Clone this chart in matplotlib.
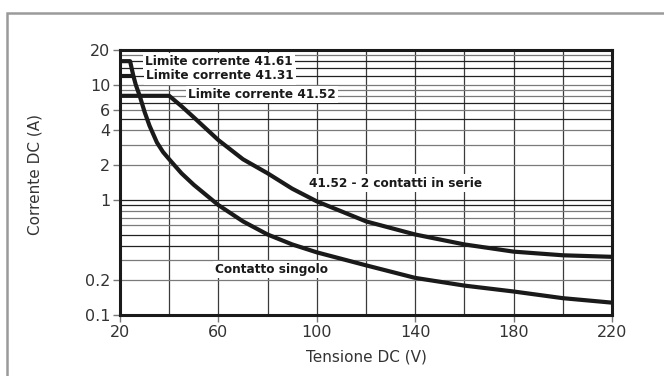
import matplotlib

matplotlib.use("Agg")
import matplotlib.pyplot as plt
from matplotlib.patches import Rectangle

# single contact curve (41.61 limit 16 A at the start)
single_v = [20, 24.1, 25.4, 26.4, 28, 30, 32, 35, 37.5, 40, 45, 50, 60, 70, 80, 90, 100, 120, 140, 160, 180, 200, 220]
single_i = [16, 16, 12, 10, 8, 5.8, 4.4, 3.15, 2.6, 2.25, 1.7, 1.35, 0.9, 0.65, 0.5, 0.41, 0.35, 0.27, 0.21, 0.18, 0.16, 0.14, 0.128]

# 41.31 current limit
limit31_v = [20, 25.4]
limit31_i = [12, 12]

# 41.52 - 2 contacts in series (limit 8 A)
series_v = [20, 40, 45, 50, 60, 70, 80, 90, 100, 120, 140, 160, 180, 200, 220]
series_i = [8, 8, 6.5, 5.2, 3.3, 2.25, 1.7, 1.25, 0.97, 0.65, 0.5, 0.41, 0.355, 0.33, 0.32]

x_ticks = [20, 60, 100, 140, 180, 220]
x_grid = [40, 60, 80, 100, 120, 140, 160, 180, 200]
y_ticks = [0.1, 0.2, 1, 2, 4, 6, 10, 20]
y_ticks_lbl = ["0.1", "0.2", "1", "2", "4", "6", "10", "20"]
y_grid_dark = [0.4, 0.5, 0.9, 1, 5, 7, 12, 14, 16]
y_grid_light = [0.2, 0.3, 0.6, 0.7, 0.8, 2, 3, 4, 6, 8, 9, 10, 18]

plt.rcParams["font.family"] = ["DejaVu Sans"]

fig = plt.figure(figsize=(6.64, 3.76), dpi=100)
fig.patches.append(Rectangle((7 / 664, -0.1), 1.2, 1 - 13 / 376 + 0.1, transform=fig.transFigure,
                             fill=False, edgecolor="#9a9a9a", linewidth=1.8))
ax = fig.add_axes([120 / 664, 1 - 315 / 376, 492 / 664, 265 / 376])
ax.set_yscale("log")
ax.set_xlim(20, 220)
ax.set_ylim(0.1, 20)

for v in x_grid:
    ax.axvline(v, color="#3a3a3a", linewidth=0.9, zorder=1)
for y in y_grid_dark:
    ax.axhline(y, color="#222222", linewidth=0.9, zorder=1)
for y in y_grid_light:
    ax.axhline(y, color="#7a7a7a", linewidth=0.9, zorder=1)

kw = dict(color="#1a1a1a", linewidth=3, solid_capstyle="butt", solid_joinstyle="round", zorder=4)
ax.plot(single_v, single_i, **kw)
ax.plot(limit31_v, limit31_i, **kw)
ax.plot(series_v, series_i, **kw)

box = dict(facecolor="white", edgecolor="none", pad=1.5)
tkw = dict(fontsize=8.7, fontweight="bold", color="#1a1a1a", va="center", ha="left", bbox=box, zorder=3)
ax.text(30.1, 16, "Limite corrente 41.61", **tkw)
ax.text(30.7, 11.9, "Limite corrente 41.31", **tkw)
ax.text(47.6, 8.2, "Limite corrente 41.52", **tkw)
ax.text(97.0, 1.4, "41.52 - 2 contatti in serie", **tkw)
ax.text(58.6, 0.25, "Contatto singolo", **tkw)

ax.set_xticks(x_ticks)
ax.set_yticks(y_ticks)
ax.set_yticklabels(y_ticks_lbl)
ax.minorticks_off()
ax.tick_params(axis="both", direction="out", length=5, width=1, color="#777777",
               labelsize=11.5, labelcolor="#333333", pad=2)
for s in ax.spines.values():
    s.set_linewidth(2.2)
    s.set_color("#1a1a1a")

ax.set_xlabel("Tensione DC (V)", fontsize=11, color="#333333")
ax.set_ylabel("Corrente DC (A)", fontsize=11, color="#333333")
ax.xaxis.set_label_coords(0.5, -0.13)
ax.yaxis.set_label_coords(-0.158, 0.53)

fig.savefig("out.png", dpi=100)
